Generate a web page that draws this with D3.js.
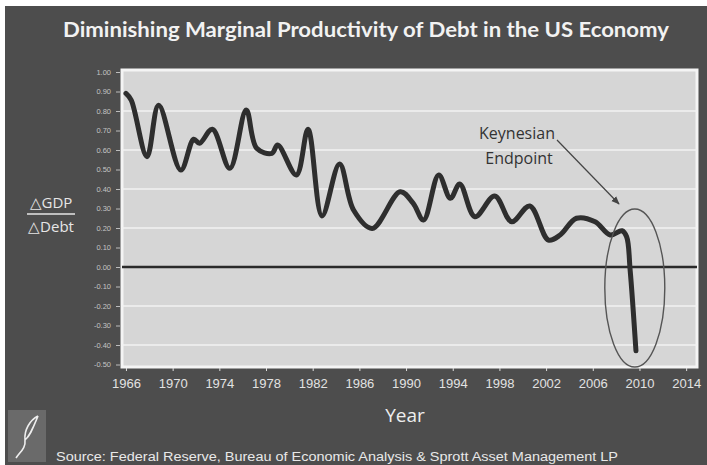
<!DOCTYPE html>
<html>
<head>
<meta charset="utf-8">
<script src="https://cdn.jsdelivr.net/npm/d3@7"></script>
<style>
  body { margin: 0; background: #ffffff; }
  svg { display: block; }
</style>
</head>
<body>
<div class="chart"></div>
<script>
// Data (turning points of the dGDP / dDebt line)
var years = [1966.0, 1966.45, 1967.8, 1968.8, 1970.7, 1971.8, 1972.3, 1973.4, 1974.9, 1976.3,
  1977.2, 1978.5, 1979.0, 1980.6, 1981.6, 1982.8, 1984.3, 1985.5, 1987.1, 1989.5,
  1990.6, 1991.5, 1992.8, 1993.8, 1994.6, 1995.9, 1997.6, 1999.05, 2000.6, 2002.2,
  2003.2, 2004.6, 2006.2, 2007.5, 2008.5, 2008.9, 2009.2, 2009.7];
var ratio = [0.89, 0.856, 0.566, 0.83, 0.497, 0.655, 0.634, 0.706, 0.506, 0.805,
  0.609, 0.583, 0.626, 0.472, 0.706, 0.262, 0.528, 0.292, 0.198, 0.386,
  0.327, 0.241, 0.472, 0.352, 0.426, 0.258, 0.364, 0.232, 0.313, 0.138,
  0.164, 0.25, 0.232, 0.164, 0.186, 0.155, -0.015, -0.43];

var xTicks = [1966, 1970, 1974, 1978, 1982, 1986, 1990, 1994, 1998, 2002, 2006, 2010, 2014];
var yTicks = [1.0, 0.9, 0.8, 0.7, 0.6, 0.5, 0.4, 0.3, 0.2, 0.1, 0.0, -0.1, -0.2, -0.3, -0.4, -0.5];
var gridValues = [0.8, 0.6, 0.4, 0.2, -0.2, -0.4];

var titleText = "Diminishing Marginal Productivity of Debt in the US Economy";
var sourceText = "Source: Federal Reserve, Bureau of Economic Analysis & Sprott Asset Management LP";

var svgWidth = 707;
var svgHeight = 465;

// plot box inside the dark frame
var plot = { left: 122, right: 697, top: 70, bottom: 367 };

var svg = d3
  .select(".chart")
  .append("svg")
  .attr("width", svgWidth)
  .attr("height", svgHeight);

// dark background of the slide
svg.append("rect")
  .attr("x", 5)
  .attr("y", 6)
  .attr("width", svgWidth - 5)
  .attr("height", svgHeight - 6)
  .attr("fill", "#4d4d4d");

var xScale = d3.scaleLinear().domain([1965.66, 2014.93]).range([plot.left, plot.right]);
var yScale = d3.scaleLinear().domain([-0.5, 1.0]).range([364.5, 72]);

// plot background + white frame
svg.append("rect")
  .attr("x", plot.left)
  .attr("y", plot.top)
  .attr("width", plot.right - plot.left)
  .attr("height", plot.bottom - plot.top)
  .attr("fill", "#d6d6d6")
  .attr("stroke", "#f4f4f4")
  .attr("stroke-width", 3);

// white gridlines every 0.2
svg.append("g")
  .selectAll("line")
  .data(gridValues)
  .enter()
  .append("line")
  .attr("x1", plot.left)
  .attr("x2", plot.right)
  .attr("y1", function(d) { return yScale(d); })
  .attr("y2", function(d) { return yScale(d); })
  .attr("stroke", "#f2f2f2")
  .attr("stroke-width", 1.6);

// zero line
svg.append("line")
  .attr("x1", plot.left)
  .attr("x2", plot.right)
  .attr("y1", yScale(0))
  .attr("y2", yScale(0))
  .attr("stroke", "#2a2a2a")
  .attr("stroke-width", 2.5);

// y axis
var leftAxis = d3.axisLeft(yScale)
  .tickValues(yTicks)
  .tickSize(4)
  .tickPadding(5)
  .tickFormat(function(d) { return d3.format(".2f")(d).replace("\u2212", "-"); });

var yAxisG = svg.append("g")
  .attr("transform", "translate(" + (plot.left - 2) + ",0)")
  .call(leftAxis);
yAxisG.select(".domain").remove();
yAxisG.selectAll("line").attr("stroke", "#bdbdbd");
yAxisG.selectAll("text")
  .attr("fill", "#c4c4c4")
  .style("font-family", "Liberation Sans, Arial, sans-serif")
  .style("font-size", "7.5px");

// x axis
var bottomAxis = d3.axisBottom(xScale)
  .tickValues(xTicks)
  .tickSize(3)
  .tickPadding(8)
  .tickFormat(d3.format("d"));

var xAxisG = svg.append("g")
  .attr("transform", "translate(0," + (plot.bottom + 1) + ")")
  .call(bottomAxis);
xAxisG.select(".domain").remove();
xAxisG.selectAll("line").attr("stroke", "#e0e0e0");
xAxisG.selectAll("text")
  .attr("fill", "#e2e2e2")
  .style("font-family", "Liberation Sans, Arial, sans-serif")
  .style("font-size", "13px");

// the data line
var lineData = years.map(function(y, i) { return { year: y, value: ratio[i] }; });

var line = d3.line()
  .x(function(d) { return xScale(d.year); })
  .y(function(d) { return yScale(d.value); })
  .curve(d3.curveCatmullRom.alpha(0.5));

svg.append("path")
  .datum(lineData)
  .attr("d", line)
  .attr("fill", "none")
  .attr("stroke", "#2e2e2e")
  .attr("stroke-width", 5)
  .attr("stroke-linejoin", "round")
  .attr("stroke-linecap", "round");

// ellipse around the endpoint
svg.append("ellipse")
  .attr("cx", xScale(2009.6))
  .attr("cy", yScale(-0.108))
  .attr("rx", 30)
  .attr("ry", 79)
  .attr("fill", "none")
  .attr("stroke", "#555555")
  .attr("stroke-width", 1.4);

// annotation
svg.append("defs")
  .append("marker")
  .attr("id", "arrow")
  .attr("viewBox", "0 0 10 10")
  .attr("refX", 9)
  .attr("refY", 5)
  .attr("markerWidth", 7)
  .attr("markerHeight", 7)
  .attr("orient", "auto")
  .append("path")
  .attr("d", "M0,1 L10,5 L0,9 Z")
  .attr("fill", "#444");

svg.append("line")
  .attr("x1", 557)
  .attr("y1", 140)
  .attr("x2", 619)
  .attr("y2", 204)
  .attr("stroke", "#444")
  .attr("stroke-width", 1.2)
  .attr("marker-end", "url(#arrow)");

svg.append("text")
  .attr("x", 517)
  .attr("y", 139)
  .attr("text-anchor", "middle")
  .attr("fill", "#333")
  .style("font-family", "Open Sans, sans-serif")
  .style("font-size", "16px")
  .text("Keynesian");

svg.append("text")
  .attr("x", 519)
  .attr("y", 164)
  .attr("text-anchor", "middle")
  .attr("fill", "#333")
  .style("font-family", "Open Sans, sans-serif")
  .style("font-size", "16px")
  .text("Endpoint");

// title
svg.append("text")
  .attr("x", 366)
  .attr("y", 37)
  .attr("text-anchor", "middle")
  .attr("fill", "#f2f2f2")
  .attr("textLength", 606)
  .attr("lengthAdjust", "spacingAndGlyphs")
  .style("font-family", "Lato, sans-serif")
  .style("font-weight", "700")
  .style("font-size", "20px")
  .text(titleText);

// y label as a fraction
svg.append("text")
  .attr("x", 51)
  .attr("y", 208)
  .attr("text-anchor", "middle")
  .attr("fill", "#e6e6e6")
  .style("font-family", "Open Sans, sans-serif")
  .style("font-size", "15px")
  .text("\u25B3GDP");

svg.append("line")
  .attr("x1", 27)
  .attr("x2", 75)
  .attr("y1", 214)
  .attr("y2", 214)
  .attr("stroke", "#e6e6e6")
  .attr("stroke-width", 1.3);

svg.append("text")
  .attr("x", 51)
  .attr("y", 232)
  .attr("text-anchor", "middle")
  .attr("fill", "#e6e6e6")
  .style("font-family", "Open Sans, sans-serif")
  .style("font-size", "15px")
  .text("\u25B3Debt");

// x label
svg.append("text")
  .attr("x", 405)
  .attr("y", 422)
  .attr("text-anchor", "middle")
  .attr("fill", "#eeeeee")
  .style("font-family", "Open Sans, sans-serif")
  .style("font-size", "19px")
  .text("Year");

// source
svg.append("text")
  .attr("x", 56)
  .attr("y", 461)
  .attr("fill", "#e8e8e8")
  .attr("textLength", 562)
  .attr("lengthAdjust", "spacingAndGlyphs")
  .style("font-family", "Liberation Sans, Arial, sans-serif")
  .style("font-size", "12.5px")
  .text(sourceText);

// little logo box bottom-left
var logo = svg.append("g");
logo.append("rect")
  .attr("x", 8)
  .attr("y", 410)
  .attr("width", 38)
  .attr("height", 52)
  .attr("fill", "#6a6a6a");
logo.append("path")
  .attr("d", "M38,416 C30,420 24,430 25,440 C26,448 20,452 16,458 M25,440 C30,436 33,428 38,416")
  .attr("fill", "none")
  .attr("stroke", "#eeeeee")
  .attr("stroke-width", 1.6);
</script>
</body>
</html>
